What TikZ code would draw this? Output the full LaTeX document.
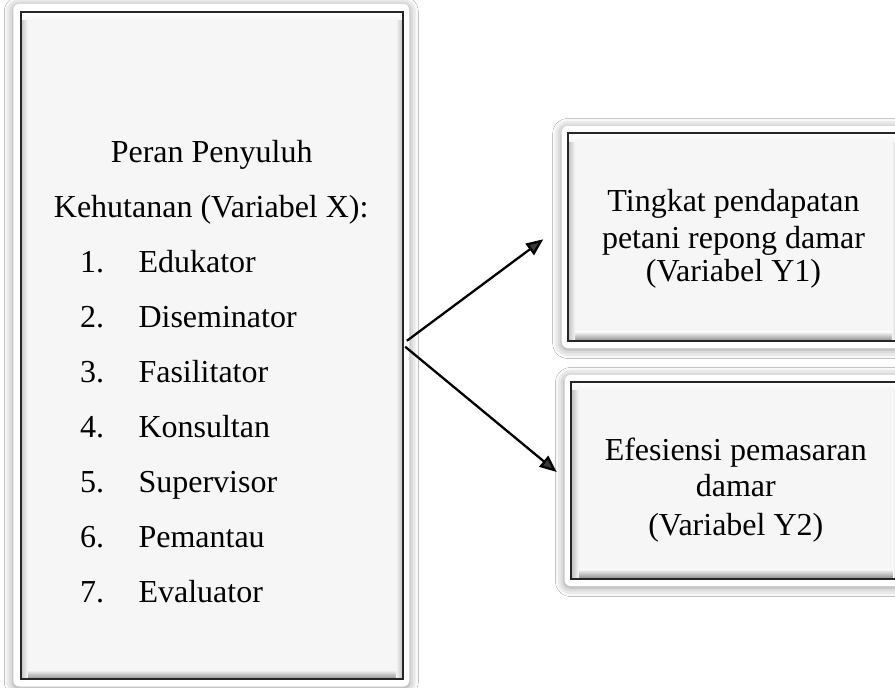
\documentclass[tikz,border=0pt]{standalone}
\usepackage{fontspec}
\setmainfont{Liberation Serif}
\usetikzlibrary{arrows.meta,shadows.blur}
\definecolor{boxfill}{HTML}{F6F6F6}
\definecolor{edge}{HTML}{262626}
\tikzset{
  inbox/.style={rectangle, fill=boxfill, inner sep=0pt},
  frame/.style={fill=white, rounded corners=6pt,
    blur shadow={shadow xshift=0pt, shadow yshift=-1.5pt, shadow blur radius=9pt, shadow blur extra rounding=4pt, shadow opacity=45}},
  border/.style={draw=edge, line width=2pt},
  txt/.style={inner sep=0pt, font=\fontsize{32}{36}\selectfont},
  arr/.style={line width=2.3pt, -{Triangle[length=17pt,width=14pt]}},
}
\newcommand\bevelit[1]{%
  \shade[top color=boxfill, bottom color=black!45] ([yshift=9pt]#1.south west) rectangle (#1.south east);
  \shade[left color=black!25, right color=boxfill] (#1.south west) rectangle ([xshift=7pt]#1.north west);
  \shade[right color=black!25, left color=boxfill] ([xshift=-7pt]#1.south east) rectangle (#1.north east);
  \shade[bottom color=boxfill, top color=white] ([yshift=-8pt]#1.north west) rectangle (#1.north east);
  \draw[border] (#1.south west) rectangle (#1.north east);
}
\begin{document}
\begin{tikzpicture}[x=1pt,y=-1pt]
\fill[white] (0,0) rectangle (895,688);
\useasboundingbox (0,0) rectangle (895,688);
\clip (0,0) rectangle (895,688);

% left box
\fill[frame] (13.3,4) rectangle (409.3,686.5);
\node[inbox, minimum width=382pt, minimum height=667.3pt] (X) at (211.7,345.35) {};
\bevelit{X}

% right boxes
\fill[frame] (561.7,126) rectangle (920,348);
\node[inbox, minimum width=330.4pt, minimum height=207.4pt] (Y1) at (733.5,237) {};
\bevelit{Y1}

\fill[frame] (564.5,375) rectangle (920,586);
\node[inbox, minimum width=328.3pt, minimum height=196.6pt] (Y2) at (735.8,480) {};
\bevelit{Y2}

% left texts
\node[txt, anchor=base] (t0) at (211.7,162.7) {Peran Penyuluh};
\node[txt, anchor=base] (t00) at (211.2,217.7) {Kehutanan (Variabel X):};
\foreach \n/\w [count=\i] in {1/Edukator,2/Diseminator,3/Fasilitator,4/Konsultan,5/Supervisor,6/Pemantau,7/Evaluator}{
  \node[txt, anchor=base west] (n\i) at (80,{217.7+55*\i}) {\n.};
  \node[txt, anchor=base west] (w\i) at (138.3,{217.7+55*\i}) {\w};
}

% right texts
\node[txt, anchor=base] (a1) at (733.5,211.7) {Tingkat pendapatan};
\node[txt, anchor=base] (a2) at (733.5,248.3) {petani repong damar};
\node[txt, anchor=base] (a3) at (733.5,281.7) {(Variabel Y1)};
\node[txt, anchor=base] (b1) at (735.8,460) {Efesiensi pemasaran};
\node[txt, anchor=base] (b2) at (735.8,496.7) {damar};
\node[txt, anchor=base] (b3) at (735.8,535) {(Variabel Y2)};

% arrows
\coordinate (e1) at (543.3,239.3);
\coordinate (e2) at (556.7,472);
\draw[arr] ([shift={(4pt,4.6pt)}]X.east) -- (e1);
\draw[arr] ([shift={(2.3pt,-1.4pt)}]X.east) -- (e2);
\end{tikzpicture}
\end{document}
